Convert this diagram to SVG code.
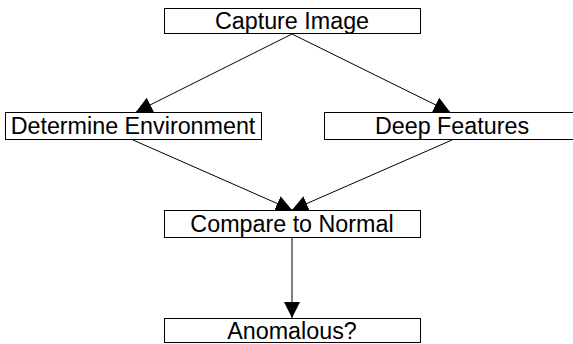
<svg xmlns="http://www.w3.org/2000/svg" width="573" height="344" viewBox="0 0 573 344">
<style>
.box{fill:#fff;stroke:#000;stroke-width:1}
.lbl{font-family:"Liberation Sans",Arial,sans-serif;font-size:23.3px;fill:#000;text-anchor:middle}
.edge{stroke:#000;stroke-width:1;fill:none}
</style>
<defs>
<marker id="arr" viewBox="0 0 10 10" refX="10" refY="5" markerWidth="16" markerHeight="16" markerUnits="userSpaceOnUse" orient="auto">
<path d="M0,0 L10,5 L0,10 Z" fill="#000"/>
</marker>
</defs>
<rect width="573" height="344" fill="#fff"/>
<g id="connectors">
<line class="edge" x1="292" y1="34" x2="136" y2="112" marker-end="url(#arr)"/>
<line class="edge" x1="292" y1="34" x2="450" y2="112" marker-end="url(#arr)"/>
<line class="edge" x1="133" y1="140" x2="292" y2="210" marker-end="url(#arr)"/>
<line class="edge" x1="452" y1="140" x2="292" y2="210" marker-end="url(#arr)"/>
<line class="edge" x1="292" y1="238" x2="292" y2="318" marker-end="url(#arr)"/>
</g>
<g id="capture">
<rect class="box" x="164.5" y="8.5" width="256" height="25"/>
<text class="lbl" x="292" y="29">Capture Image</text>
</g>
<g id="determine">
<rect class="box" x="5.5" y="112.5" width="256" height="27"/>
<text class="lbl" x="133" y="134">Determine Environment</text>
</g>
<g id="deep">
<rect class="box" x="324.5" y="112.5" width="256" height="27"/>
<text class="lbl" x="452" y="134">Deep Features</text>
</g>
<g id="compare">
<rect class="box" x="164.5" y="210.5" width="256" height="27"/>
<text class="lbl" x="292" y="232">Compare to Normal</text>
</g>
<g id="anomalous">
<rect class="box" x="164.5" y="318.5" width="256" height="24"/>
<text class="lbl" x="292" y="339">Anomalous?</text>
</g>
</svg>
